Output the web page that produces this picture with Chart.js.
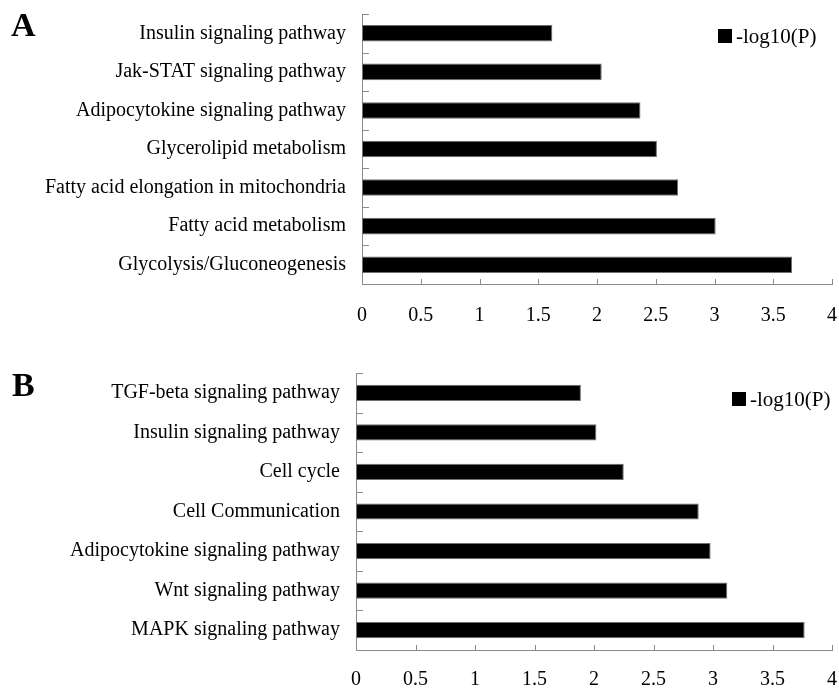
<!DOCTYPE html>
<html>
<head>
<meta charset="utf-8">
<script src="https://cdn.jsdelivr.net/npm/chart.js@4/dist/chart.umd.min.js"></script>
<style>
  html, body { margin: 0; padding: 0; background: #fff; }
  #wrap { position: relative; width: 839px; height: 693px; overflow: hidden; }
  canvas { position: absolute; left: 0; }
</style>
</head>
<body>
<div id="wrap">
  <canvas id="chartA" width="839" height="340" style="top:0px"></canvas>
  <canvas id="chartB" width="839" height="353" style="top:340px"></canvas>
</div>
<script>
// Enriched KEGG pathways, significance as -log10(P)
const seriesLabel = '-log10(P)';
const xTickLabels = ['0', '0.5', '1', '1.5', '2', '2.5', '3', '3.5', '4'];

const pathwaysA = [
  'Insulin signaling pathway',
  'Jak-STAT signaling pathway',
  'Adipocytokine signaling pathway',
  'Glycerolipid metabolism',
  'Fatty acid elongation in mitochondria',
  'Fatty acid metabolism',
  'Glycolysis/Gluconeogenesis'
];
const valuesA = [1.62, 2.04, 2.37, 2.51, 2.69, 3.01, 3.66];

const pathwaysB = [
  'TGF-beta signaling pathway',
  'Insulin signaling pathway',
  'Cell cycle',
  'Cell Communication',
  'Adipocytokine signaling pathway',
  'Wnt signaling pathway',
  'MAPK signaling pathway'
];
const valuesB = [1.89, 2.02, 2.25, 2.88, 2.98, 3.12, 3.77];

const SERIF = "'Liberation Serif', 'Times New Roman', serif";
const AXIS_COLOR = '#8a8a8a';

// Inward tick marks, the in-plot legend and the panel letter
const decorations = {
  id: 'decorations',
  afterDraw(chart, args, o) {
    const { ctx, chartArea: a } = chart;
    const x = chart.scales.x, y = chart.scales.y;
    ctx.save();
    ctx.strokeStyle = AXIS_COLOR;
    ctx.lineWidth = 1;
    ctx.beginPath();
    x.ticks.forEach(t => {
      if (t.value <= 0) return;
      const px = Math.round(x.getPixelForValue(t.value)) + 0.5;
      ctx.moveTo(px, a.bottom);
      ctx.lineTo(px, a.bottom - 5);
    });
    const step = y.getPixelForValue(1) - y.getPixelForValue(0);
    for (let i = 0; i < y.ticks.length; i++) {
      const py = Math.round(y.getPixelForValue(i) - step / 2) + 0.5;
      ctx.moveTo(a.left, py);
      ctx.lineTo(a.left + 7, py);
    }
    ctx.stroke();

    // legend
    const ds = chart.data.datasets[0];
    ctx.fillStyle = ds.backgroundColor;
    ctx.fillRect(o.legendX, o.legendY, o.legendBox, o.legendBox);
    ctx.fillStyle = '#000';
    ctx.font = `${o.legendFont}px ${SERIF}`;
    ctx.textBaseline = 'middle';
    ctx.textAlign = 'left';
    ctx.fillText(ds.label, o.legendX + o.legendBox + 4, o.legendY + o.legendBox / 2 + 1);

    // panel letter
    ctx.font = `bold 34px ${SERIF}`;
    ctx.textBaseline = 'alphabetic';
    ctx.fillText(o.letter, o.letterX, o.letterY);
    ctx.restore();
  }
};

function makeChart(id, labels, values, cfg) {
  return new Chart(document.getElementById(id), {
    type: 'bar',
    data: {
      labels: labels,
      datasets: [{
        label: seriesLabel,
        data: values,
        backgroundColor: '#000',
        borderColor: '#6e6e6e',
        borderWidth: 1,
        borderSkipped: false,
        barPercentage: cfg.barPct,
        categoryPercentage: 1
      }]
    },
    options: {
      indexAxis: 'y',
      responsive: false,
      animation: false,
      devicePixelRatio: 1,
      layout: { padding: { top: cfg.top, right: 7, left: 0, bottom: 0 } },
      plugins: {
        legend: { display: false },
        tooltip: { enabled: false },
        decorations: cfg.deco
      },
      scales: {
        x: {
          min: 0, max: 4,
          grid: { display: false, drawTicks: false, tickLength: 0 },
          border: { display: true, color: AXIS_COLOR, width: 1 },
          ticks: {
            stepSize: 0.5,
            autoSkip: false,
            maxRotation: 0,
            padding: cfg.xPad,
            color: '#000',
            font: { family: SERIF, size: 20 },
            callback: v => xTickLabels[Math.round(v / 0.5)]
          },
          afterFit: s => {
            s.height = cfg.xHeight;
            s.paddingLeft = 0;
            s.paddingRight = 0;
          }
        },
        y: {
          grid: { display: false, drawTicks: false, tickLength: 0 },
          border: { display: true, color: AXIS_COLOR, width: 1 },
          ticks: {
            autoSkip: false,
            padding: 16,
            color: '#000',
            font: { family: SERIF, size: 20 }
          },
          afterFit: s => {
            s.width = cfg.yWidth;
            s.paddingTop = 0;
            s.paddingBottom = 0;
          }
        }
      }
    },
    plugins: [decorations]
  });
}

makeChart('chartA', pathwaysA, valuesA, {
  top: 14, xHeight: 56, yWidth: 362, xPad: 20, barPct: 0.43,
  deco: { legendX: 718, legendY: 29, legendBox: 14, legendFont: 21, letter: 'A', letterX: 11, letterY: 36 }
});

makeChart('chartB', pathwaysB, valuesB, {
  top: 33, xHeight: 43, yWidth: 356, xPad: 18, barPct: 0.41,
  deco: { legendX: 732, legendY: 52, legendBox: 14, legendFont: 21, letter: 'B', letterX: 12, letterY: 56 }
});
</script>
</body>
</html>
